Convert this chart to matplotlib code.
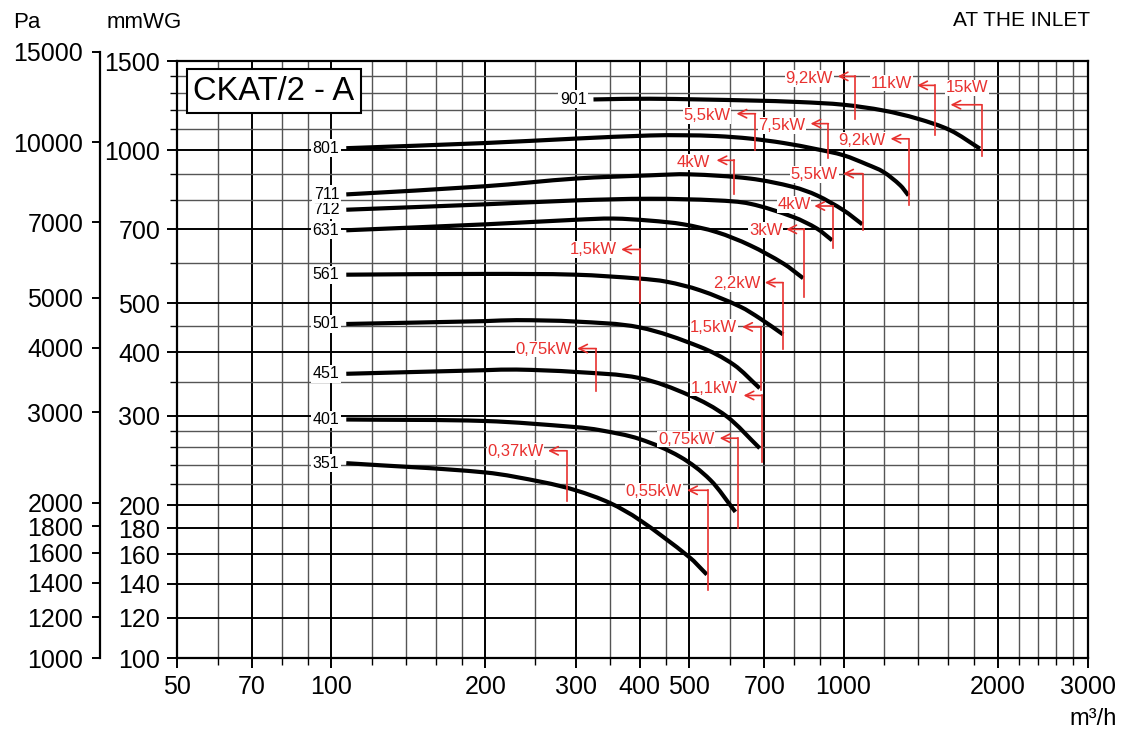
import numpy as np
import matplotlib.pyplot as plt
from matplotlib.path import Path
from matplotlib.patches import PathPatch
from matplotlib.ticker import NullFormatter

plt.rcParams['font.family'] = ['Liberation Sans', 'DejaVu Sans']

# fan curves, flow in m3/h and pressure in mmWG
fans = ['351', '401', '451', '501', '561', '631', '712', '711', '801', '901']
flow = {
    '351': [107, 200, 259, 300, 350, 400, 500, 541],
    '401': [107, 200, 300, 335, 400, 480, 550, 615],
    '451': [107, 200, 230, 300, 400, 501, 592, 686],
    '501': [107, 200, 230, 300, 400, 525, 611, 686],
    '561': [107, 200, 300, 400, 452, 525, 629, 688, 762],
    '631': [107, 200, 300, 355, 420, 487, 566, 657, 764, 834],
    '712': [107, 200, 300, 420, 566, 657, 798, 888, 950],
    '711': [107, 200, 300, 419, 500, 657, 798, 888, 1000, 1088],
    '801': [107, 200, 300, 419, 487, 566, 657, 764, 888, 1000, 1112, 1198, 1291, 1339],
    '901': [325, 419, 657, 823, 1000, 1198, 1393, 1617, 1846],
}
press = {
    '351': [242, 232, 222, 214, 202, 187, 158, 146],
    '401': [295, 293, 285, 281, 270, 249, 224, 194],
    '451': [363, 369, 370, 366, 356, 329, 299, 259],
    '501': [455, 461, 463, 460, 448, 410, 378, 340],
    '561': [569, 571, 569, 559, 551, 530, 492, 466, 434],
    '631': [696, 715, 730, 734, 727, 715, 690, 650, 598, 560],
    '712': [764, 783, 797, 803, 797, 785, 739, 701, 665],
    '711': [819, 850, 880, 893, 897, 880, 847, 815, 762, 715],
    '801': [1010, 1034, 1055, 1070, 1071, 1067, 1055, 1034, 1005, 978, 938, 906, 853, 815],
    '901': [1260, 1264, 1254, 1245, 1230, 1198, 1155, 1095, 1008],
}

# motor power limits
kw_text = ['0,37kW', '0,55kW', '0,75kW', '0,75kW', '1,1kW', '1,5kW', '1,5kW', '2,2kW',
           '3kW', '4kW', '4kW', '5,5kW', '5,5kW', '7,5kW', '9,2kW', '9,2kW', '11kW', '15kW']
kw_text_x = [229, 426, 493, 260, 560, 558, 325, 618, 705, 800, 510, 877, 541, 758, 1086, 857, 1240, 1742]
kw_text_y = [255, 213, 270, 406, 340, 448, 638, 547, 696, 782, 948, 897, 1172, 1120, 1046, 1386, 1357, 1328]
kw_tip_x = [265, 495, 573, 302, 638, 634, 368, 702, 773, 877, 565, 998, 618, 862, 1235, 974, 1392, 1617]
kw_tip_y = [256, 214, 271, 407, 329, 449, 638, 549, 699, 777, 956, 900, 1181, 1129, 1054, 1399, 1343, 1230]
kw_line_x = [288, 543, 621, 329, 693, 690, 401, 762, 838, 954, 612, 1089, 673, 934, 1339, 1055, 1505, 1859]
kw_line_bottom = [204, 136, 180, 336, 243, 337, 500, 407, 514, 643, 819, 698, 1000, 967, 780, 1155, 1070, 977]

x_major = [50, 70, 100, 200, 300, 400, 500, 700, 1000, 2000, 3000]
x_minor = [60, 80, 90, 120, 140, 160, 180, 250, 350, 450, 600, 800, 900,
           1200, 1400, 1600, 1800, 2200, 2400, 2600, 2800]
y_major = [100, 120, 140, 160, 180, 200, 300, 400, 500, 700, 1000, 1500]
y_minor = [220, 240, 260, 280, 350, 450, 600, 800, 900, 1100, 1200, 1300, 1400]
pa_ticks = [1000, 1200, 1400, 1600, 1800, 2000, 3000, 4000, 5000, 7000, 10000, 15000]

red = '#e8312f'


def smooth_curve(xs, ys):
    # cubic bezier through the read points, built in log-log space
    lx = np.log10(xs)
    ly = np.log10(ys)
    n = len(lx)
    slope = np.zeros(n)
    slope[0] = (ly[1] - ly[0]) / (lx[1] - lx[0])
    slope[-1] = (ly[-1] - ly[-2]) / (lx[-1] - lx[-2])
    for i in range(1, n - 1):
        slope[i] = (ly[i + 1] - ly[i - 1]) / (lx[i + 1] - lx[i - 1])
    verts = [(xs[0], ys[0])]
    codes = [Path.MOVETO]
    for i in range(n - 1):
        h = (lx[i + 1] - lx[i]) / 3
        verts.append((10 ** (lx[i] + h), 10 ** (ly[i] + slope[i] * h)))
        verts.append((10 ** (lx[i + 1] - h), 10 ** (ly[i + 1] - slope[i + 1] * h)))
        verts.append((xs[i + 1], ys[i + 1]))
        codes += [Path.CURVE4] * 3
    return Path(verts, codes)


fig = plt.figure(figsize=(11.23, 7.30), dpi=100)
ax = fig.add_axes([177 / 1123, 72 / 730, 911 / 1123, 597 / 730])
ax.set_xscale('log')
ax.set_yscale('log')
ax.set_xlim(50, 3000)
ax.set_ylim(100, 1500)

ax.set_xticks(x_major)
ax.set_xticklabels([str(v) for v in x_major])
ax.set_xticks(x_minor, minor=True)
ax.xaxis.set_minor_formatter(NullFormatter())
ax.set_yticks(y_major)
ax.set_yticklabels([str(v) for v in y_major])
ax.set_yticks(y_minor, minor=True)
ax.yaxis.set_minor_formatter(NullFormatter())

ax.tick_params(which='major', length=7, width=1.4, labelsize=18, direction='out')
ax.tick_params(which='minor', length=5, width=1.0, direction='out')
ax.tick_params(axis='x', which='major', pad=5)
ax.tick_params(axis='y', which='major', pad=5)
ax.grid(which='major', color='black', linewidth=1.4, zorder=0)
ax.grid(which='minor', color='#555555', linewidth=1.0, zorder=0)
ax.set_axisbelow(True)
for s in ax.spines.values():
    s.set_linewidth(1.6)

for name in fans:
    ax.add_patch(PathPatch(smooth_curve(flow[name], press[name]), fill=False,
                           edgecolor='black', linewidth=3.0, capstyle='butt', zorder=3))
    ax.annotate(name, (flow[name][0], press[name][0]), xytext=(-5, 0),
                textcoords='offset points', ha='right', va='center', fontsize=11.5,
                bbox=dict(facecolor='white', edgecolor='none', pad=1.0), zorder=5)

for i in range(len(kw_text)):
    ax.plot([kw_line_x[i], kw_line_x[i]], [kw_tip_y[i], kw_line_bottom[i]],
            color=red, linewidth=1.2, zorder=4)
    ax.annotate('', xy=(kw_tip_x[i], kw_tip_y[i]), xytext=(kw_line_x[i], kw_tip_y[i]),
                arrowprops=dict(arrowstyle='->, head_length=0.6, head_width=0.3',
                                color=red, lw=1.2, shrinkA=0, shrinkB=0,
                                mutation_scale=10), zorder=4)
    ax.text(kw_text_x[i], kw_text_y[i], kw_text[i], color=red, fontsize=12,
            ha='center', va='center', zorder=6,
            bbox=dict(facecolor='white', edgecolor='none', pad=0.5))

ax.text(0.1065, 0.949, 'CKAT/2 - A', transform=ax.transAxes, fontsize=23.5,
        ha='center', va='center', zorder=7,
        bbox=dict(facecolor='white', edgecolor='black', linewidth=1.5, boxstyle='square,pad=0.2'))

# second pressure scale in Pa
ax_pa = fig.add_axes([100 / 1123, 72 / 730, 0.001, 606.3 / 730])
ax_pa.set_yscale('log')
ax_pa.set_ylim(1000, 15000)
ax_pa.set_yticks(pa_ticks)
ax_pa.set_yticklabels([str(v) for v in pa_ticks])
ax_pa.yaxis.set_minor_locator(plt.NullLocator())
ax_pa.set_xticks([])
ax_pa.patch.set_visible(False)
for side in ['right', 'top', 'bottom']:
    ax_pa.spines[side].set_visible(False)
ax_pa.spines['left'].set_linewidth(1.6)
ax_pa.tick_params(axis='y', length=6, width=1.4, labelsize=18, pad=6)

fig.text(13 / 1123, 1 - 22 / 730, 'Pa', fontsize=16, va='center', ha='left')
fig.text(107 / 1123, 1 - 22 / 730, 'mmWG', fontsize=16, va='center', ha='left')
fig.text(1090 / 1123, 1 - 21 / 730, 'AT THE INLET', fontsize=15, va='center', ha='right')
fig.text(1117 / 1123, 1 - 719 / 730, 'm³/h', fontsize=17, va='center', ha='right')

fig.savefig('out.png', dpi=100)
